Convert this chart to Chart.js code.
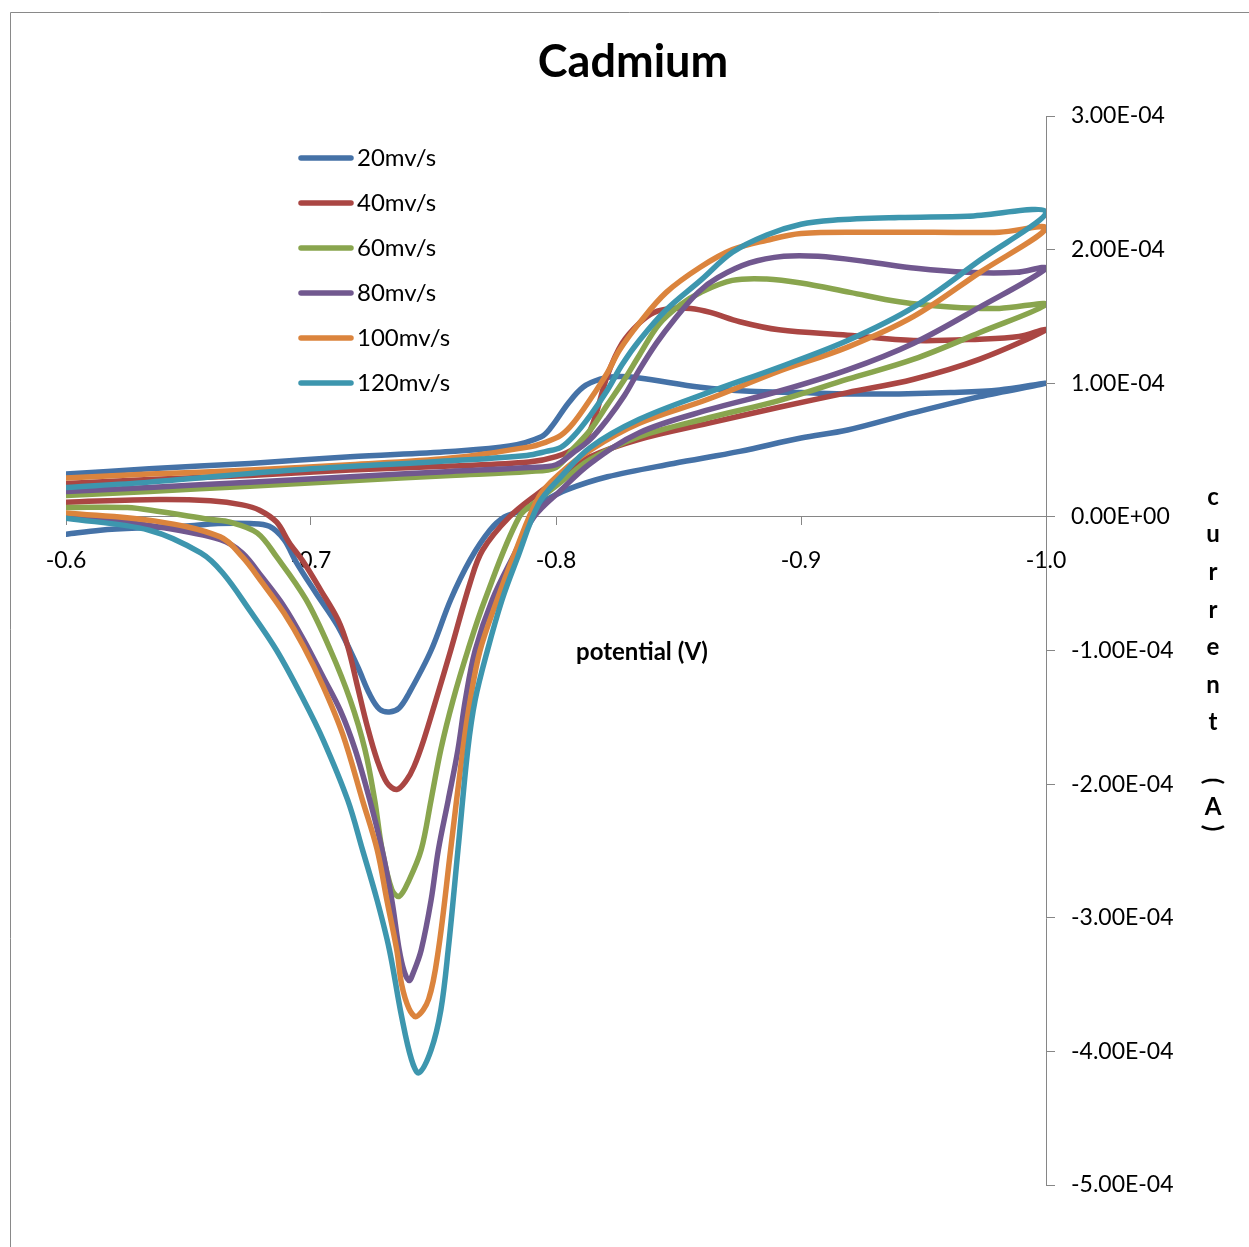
<!DOCTYPE html>
<html>
<head>
<meta charset="utf-8">
<title>Cadmium</title>
<script src="https://cdn.jsdelivr.net/npm/chart.js@4.4.1/dist/chart.umd.min.js"></script>
<style>
  html, body { margin: 0; padding: 0; background: #fff; overflow: hidden; }
  #cv { display: block; }
</style>
</head>
<body>
<canvas id="cv" width="1249" height="1247"></canvas>
<script>
// cyclic voltammograms, potential in V, current in µA
const scanRates = ['20mv/s', '40mv/s', '60mv/s', '80mv/s', '100mv/s', '120mv/s']
const colors = ['#4572A7', '#AA4643', '#89A54E', '#71588F', '#DB843D', '#3D96AE']

const potential20 = [-0.600,-0.634,-0.675,-0.716,-0.757,-0.781,-0.794,-0.798,-0.805,-0.811,-0.818,-0.825,-0.834,-0.859,-0.879,-0.900,-0.920,-0.940,-0.961,-0.981,-1.000,
  -0.973,-0.946,-0.919,-0.900,-0.875,-0.848,-0.821,-0.804,-0.793,-0.785,-0.779,-0.773,-0.765,-0.757,-0.749,-0.740,-0.736,-0.732,-0.728,-0.724,
  -0.719,-0.711,-0.702,-0.694,-0.689,-0.683,-0.675,-0.662,-0.648,-0.634,-0.614,-0.600]
const current20 = [32,36,40,45,49,53,60,67,85,97,103,105,104,97,94,93,92,92,93,95,100,
  90,78,65,59,49,40,30,20,10,4,0,-10,-32,-62,-100,-132,-143,-146,-144,-133,
  -112,-82,-57,-34,-17,-7,-5,-5,-7,-8,-10,-13]

const potential40 = [-0.600,-0.634,-0.675,-0.716,-0.757,-0.789,-0.800,-0.808,-0.814,-0.821,-0.827,-0.834,-0.840,-0.847,-0.855,-0.863,-0.875,-0.891,-0.919,-0.946,-0.973,-0.989,-1.000,
  -0.973,-0.946,-0.919,-0.891,-0.862,-0.834,-0.814,-0.802,-0.793,-0.781,-0.770,-0.765,-0.757,-0.751,-0.746,-0.742,-0.739,-0.735,-0.731,-0.727,
  -0.723,-0.719,-0.715,-0.711,-0.704,-0.697,-0.691,-0.686,-0.679,-0.672,-0.659,-0.638,-0.600]
const current40 = [25,28,31,35,38,41,45,52,65,106,130,145,153,156,156,153,146,140,136,132,133,135,140,
  118,103,93,82,70,58,45,30,18,0,-25,-49,-100,-137,-167,-187,-197,-204,-199,-182,
  -157,-127,-97,-77,-55,-34,-19,-4,5,9,12,13,11]

const potential60 = [-0.600,-0.634,-0.675,-0.716,-0.757,-0.789,-0.800,-0.807,-0.814,-0.821,-0.828,-0.834,-0.842,-0.851,-0.859,-0.872,-0.886,-0.900,-0.920,-0.940,-0.961,-0.981,-1.000,
  -0.973,-0.946,-0.919,-0.891,-0.862,-0.834,-0.814,-0.802,-0.793,-0.785,-0.771,-0.764,-0.758,-0.753,-0.749,-0.745,-0.740,-0.736,-0.733,-0.729,
  -0.726,-0.722,-0.716,-0.708,-0.698,-0.686,-0.678,-0.667,-0.659,-0.638,-0.625,-0.600]
const current60 = [16,19,23,27,31,34,37,51,65,84,103,121,144,159,168,177,178,175,168,161,157,156,159,
  138,118,103,87,74,60,43,26,13,0,-62,-100,-137,-174,-212,-249,-272,-284,-279,-249,
  -212,-174,-137,-100,-62,-30,-12,-4,-2,4,7,7]

const potential80 = [-0.600,-0.634,-0.675,-0.716,-0.757,-0.789,-0.800,-0.807,-0.814,-0.821,-0.828,-0.834,-0.841,-0.848,-0.858,-0.866,-0.879,-0.893,-0.907,-0.927,-0.947,-0.968,-0.988,-1.000,
  -0.973,-0.946,-0.919,-0.891,-0.862,-0.834,-0.814,-0.802,-0.791,-0.783,-0.774,-0.767,-0.763,-0.760,-0.756,-0.752,-0.749,-0.745,-0.742,-0.740,-0.738,
  -0.736,-0.733,-0.729,-0.724,-0.718,-0.712,-0.705,-0.697,-0.689,-0.680,-0.672,-0.663,-0.636,-0.600]
const current80 = [19,22,26,30,34,37,39,48,58,73,91,110,130,147,168,179,190,195,195,191,186,183,183,186,
  157,130,110,94,80,63,40,20,0,-28,-62,-100,-137,-174,-212,-249,-287,-324,-340,-347,-340,
  -324,-287,-249,-212,-174,-145,-120,-92,-67,-45,-27,-17,-7,2]

const potential100 = [-0.600,-0.634,-0.675,-0.716,-0.757,-0.788,-0.796,-0.802,-0.807,-0.814,-0.821,-0.826,-0.834,-0.845,-0.859,-0.872,-0.886,-0.900,-0.927,-0.954,-0.981,-1.000,
  -0.973,-0.946,-0.919,-0.891,-0.862,-0.834,-0.814,-0.802,-0.793,-0.783,-0.776,-0.769,-0.765,-0.762,-0.757,-0.752,-0.748,-0.743,-0.740,-0.737,-0.735,
  -0.731,-0.727,-0.721,-0.713,-0.705,-0.697,-0.689,-0.680,-0.672,-0.663,-0.636,-0.600]
const current100 = [29,32,35,39,44,52,56,61,70,88,108,125,145,168,187,200,207,212,213,213,213,216,
  183,150,127,109,88,70,50,33,15,-28,-62,-100,-137,-174,-249,-324,-361,-374,-368,-350,-324,
  -287,-249,-212,-163,-127,-97,-72,-49,-30,-15,-3,3]

const potential120 = [-0.600,-0.634,-0.693,-0.757,-0.788,-0.796,-0.802,-0.807,-0.814,-0.821,-0.827,-0.834,-0.845,-0.859,-0.872,-0.886,-0.900,-0.913,-0.940,-0.968,-1.000,
  -0.973,-0.946,-0.919,-0.891,-0.862,-0.834,-0.814,-0.802,-0.793,-0.784,-0.778,-0.772,-0.767,-0.764,-0.760,-0.756,-0.753,-0.749,-0.744,-0.741,-0.737,
  -0.732,-0.727,-0.721,-0.715,-0.705,-0.697,-0.686,-0.675,-0.664,-0.655,-0.634,-0.600]
const current120 = [22,26,35,42,46,49,52,60,76,95,114,132,155,177,198,211,219,222,224,225,228,
  192,157,132,112,93,73,52,30,10,-32,-62,-100,-137,-174,-249,-324,-369,-399,-416,-406,-374,
  -324,-287,-249,-212,-167,-137,-100,-70,-42,-27,-10,-1]

const potentials = [potential20, potential40, potential60, potential80, potential100, potential120]
const currents = [current20, current40, current60, current80, current100, current120]

const FONT = 'Lato, "Open Sans", sans-serif'

// µA -> "3.00E-04" style amps
const sci = (v) => {
  const a = v * 1e-6
  if (Math.abs(a) < 1e-12) return '0.00E+00'
  const exp = Math.floor(Math.log10(Math.abs(a)) + 1e-9)
  const m = (a / Math.pow(10, exp)).toFixed(2)
  const sign = exp < 0 ? '-' : '+'
  return m + 'E' + sign + String(Math.abs(exp)).padStart(2, '0')
}

const overlay = {
  id: 'overlay',
  beforeDraw(chart) {
    const { ctx, width, height } = chart
    ctx.save()
    ctx.fillStyle = '#fff'
    ctx.fillRect(0, 0, width, height)
    ctx.strokeStyle = '#898989'
    ctx.lineWidth = 1
    ctx.beginPath()
    ctx.moveTo(10.5, height)
    ctx.lineTo(10.5, 12.5)
    ctx.lineTo(width, 12.5)
    ctx.stroke()
    ctx.restore()
  },
  afterDraw(chart) {
    const { ctx } = chart
    ctx.save()
    ctx.fillStyle = '#000'
    ctx.textAlign = 'center'
    ctx.textBaseline = 'middle'

    ctx.font = 'bold 45px ' + FONT
    ctx.fillText('Cadmium', 633, 62)

    ctx.font = 'bold 24px ' + FONT
    ctx.fillText('potential (V)', 642, 652)

    // stacked axis title on the right
    'current'.split('').forEach((ch, i) => ctx.fillText(ch, 1213, 497 + i * 37.6))
    ctx.fillText('A', 1213, 807)
    ;[['(', 781], [')', 828]].forEach(([p, y]) => {
      ctx.save()
      ctx.translate(1213, y)
      ctx.rotate(Math.PI / 2)
      ctx.fillText(p, 0, 0)
      ctx.restore()
    })

    // legend
    ctx.font = '24px ' + FONT
    ctx.textAlign = 'left'
    chart.data.datasets.forEach((ds, i) => {
      const y = 158 + i * 45
      ctx.strokeStyle = ds.borderColor
      ctx.lineWidth = 5.5
      ctx.lineCap = 'round'
      ctx.beginPath()
      ctx.moveTo(301, y)
      ctx.lineTo(351, y)
      ctx.stroke()
      ctx.fillText(ds.label, 357, y)
    })
    ctx.restore()
  }
}

const ctx = document.getElementById('cv').getContext('2d')
const cvChart = new Chart(ctx, {
  type: 'scatter',
  data: {
    datasets: scanRates.map((label, i) => ({
      label: label,
      data: potentials[i].map((v, j) => ({ x: v, y: currents[i][j] })),
      showLine: true,
      borderColor: colors[i],
      backgroundColor: colors[i],
      borderWidth: 5.5,
      borderCapStyle: 'round',
      borderJoinStyle: 'round',
      pointRadius: 0,
      tension: 0.35,
      fill: false,
      order: scanRates.length - i,
    })),
  },
  options: {
    responsive: false,
    animation: false,
    layout: { padding: { left: 66, top: 116, right: 0, bottom: 62 } },
    plugins: {
      legend: { display: false },
      tooltip: { enabled: false },
      title: { display: false },
    },
    scales: {
      x: {
        type: 'linear',
        position: { y: 0 },
        reverse: true,
        min: -1.0,
        max: -0.6,
        ticks: {
          stepSize: 0.1,
          maxRotation: 0,
          autoSkip: false,
          padding: 22,
          color: '#000',
          font: { family: FONT, size: 23 },
          callback: (v) => Number(v).toFixed(1),
        },
        grid: { drawOnChartArea: false, tickLength: 8, color: '#868686' },
        border: { color: '#868686', width: 1 },
      },
      y: {
        position: 'right',
        min: -500,
        max: 300,
        ticks: {
          stepSize: 100,
          padding: 16,
          color: '#000',
          font: { family: FONT, size: 23 },
          callback: (v) => sci(v),
        },
        grid: { drawOnChartArea: false, tickLength: 9, color: '#868686' },
        border: { color: '#868686', width: 1 },
        afterFit: (scale) => { scale.width = 203 },
      },
    },
  },
  plugins: [overlay],
})
</script>
</body>
</html>
